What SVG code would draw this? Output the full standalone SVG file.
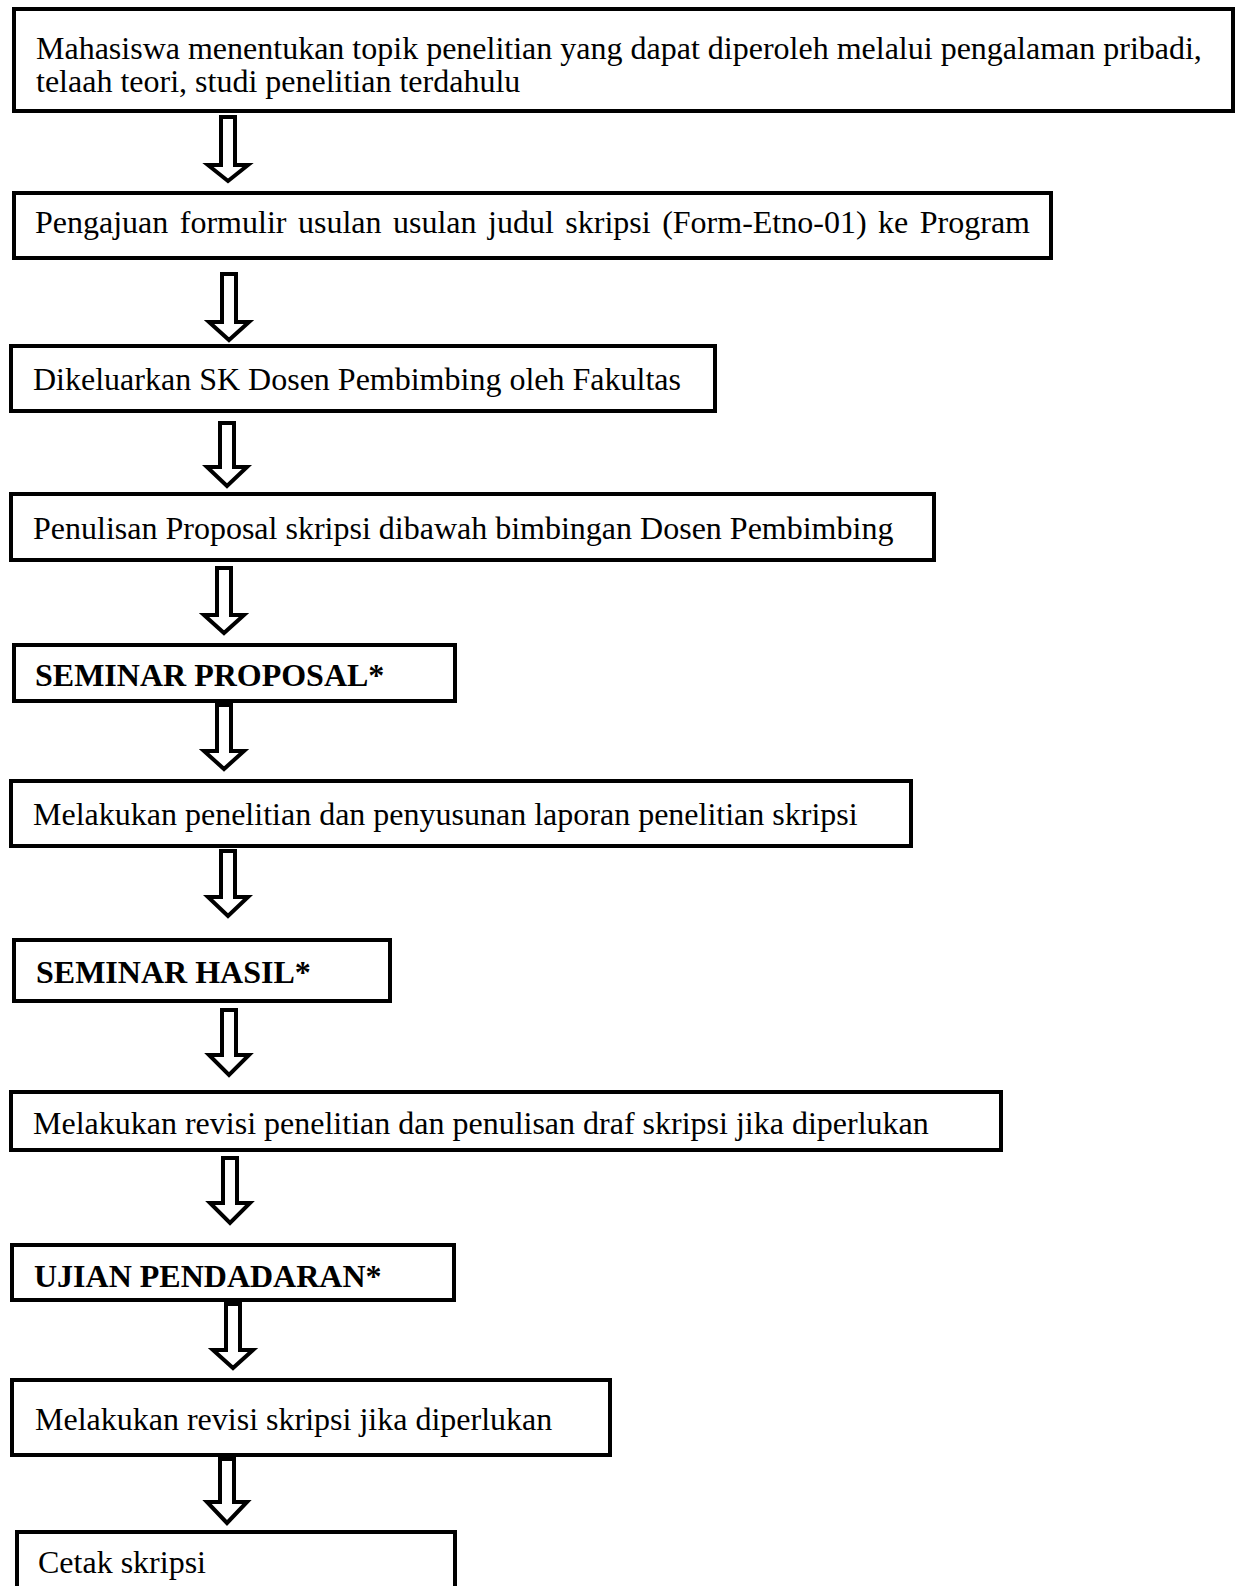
<svg xmlns="http://www.w3.org/2000/svg" width="1238" height="1586" viewBox="0 0 1238 1586">
<style>
.box{fill:#fff;stroke:#000;stroke-width:4}
.arr{fill:#fff;stroke:#000;stroke-width:4;stroke-linejoin:miter}
text{font-family:"Liberation Serif","Times New Roman",serif;font-size:32px;fill:#000}
.b{font-weight:bold}
</style>
<rect width="1238" height="1586" fill="#fff"/>
<g id="connectors">
<polygon class="arr" points="221,117 235,117 235,165 248,165 228,181 208,165 221,165"/>
<polygon class="arr" points="222,274 236,274 236,322 249,322 229,340 209,322 222,322"/>
<polygon class="arr" points="220,423 234,423 234,467 247,467 227,486 207,467 220,467"/>
<polygon class="arr" points="217,568 231,568 231,615 244,615 224,633 204,615 217,615"/>
<polygon class="arr" points="217,705 231,705 231,751 244,751 224,769 204,751 217,751"/>
<polygon class="arr" points="221,851 235,851 235,897 248,897 228,916 208,897 221,897"/>
<polygon class="arr" points="222,1010 236,1010 236,1055 249,1055 229,1075 209,1055 222,1055"/>
<polygon class="arr" points="223,1158 237,1158 237,1203 250,1203 230,1223 210,1203 223,1203"/>
<polygon class="arr" points="226,1304 240,1304 240,1350 253,1350 233,1368 213,1350 226,1350"/>
<polygon class="arr" points="220,1459 234,1459 234,1502 247,1502 227,1523 207,1502 220,1502"/>
</g>
<g id="n1"><rect class="box" x="14" y="9" width="1219" height="102"/>
<text x="36" y="59">Mahasiswa menentukan topik penelitian yang dapat diperoleh melalui pengalaman pribadi,</text>
<text x="36" y="92">telaah teori, studi penelitian terdahulu</text></g>
<g id="n2"><rect class="box" x="14" y="193" width="1037" height="65"/>
<text x="35" y="233" word-spacing="3.5">Pengajuan formulir usulan usulan judul skripsi (Form-Etno-01) ke Program</text></g>
<g id="n3"><rect class="box" x="11" y="346" width="704" height="65"/>
<text x="33" y="390">Dikeluarkan SK Dosen Pembimbing oleh Fakultas</text></g>
<g id="n4"><rect class="box" x="11" y="494" width="923" height="66"/>
<text x="33" y="539">Penulisan Proposal skripsi dibawah bimbingan Dosen Pembimbing</text></g>
<g id="n5"><rect class="box" x="14" y="645" width="441" height="56"/>
<text class="b" x="35" y="686">SEMINAR PROPOSAL*</text></g>
<g id="n6"><rect class="box" x="11" y="781" width="900" height="65"/>
<text x="33" y="825">Melakukan penelitian dan penyusunan laporan penelitian skripsi</text></g>
<g id="n7"><rect class="box" x="14" y="940" width="376" height="61"/>
<text class="b" x="36" y="983">SEMINAR HASIL*</text></g>
<g id="n8"><rect class="box" x="11" y="1092" width="990" height="58"/>
<text x="33" y="1134">Melakukan revisi penelitian dan penulisan draf skripsi jika diperlukan</text></g>
<g id="n9"><rect class="box" x="12" y="1245" width="442" height="55"/>
<text class="b" x="34" y="1287">UJIAN PENDADARAN*</text></g>
<g id="n10"><rect class="box" x="12" y="1380" width="598" height="75"/>
<text x="35" y="1430">Melakukan revisi skripsi jika diperlukan</text></g>
<g id="n11"><rect class="box" x="17" y="1532" width="438" height="80"/>
<text x="38" y="1573">Cetak skripsi</text></g>
</svg>
